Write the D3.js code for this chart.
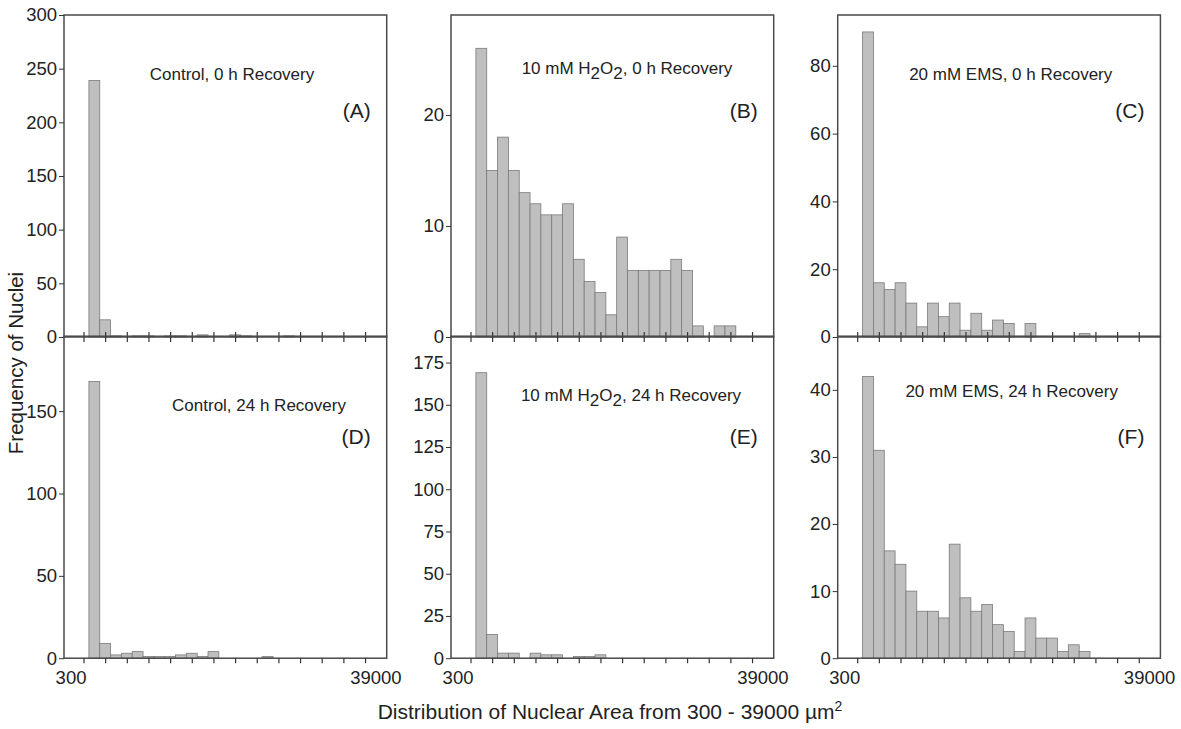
<!DOCTYPE html>
<html>
<head>
<meta charset="utf-8">
<script src="https://cdn.jsdelivr.net/npm/d3@7"></script>
<style>
  body { margin: 0; background: #fff; }
  text { font-family: "Liberation Sans", Arial, Helvetica, sans-serif; fill: #222; }
</style>
</head>
<body>
<svg id="chart" width="1181" height="729"></svg>
<script>
// frequency of nuclei per area bin (bin 0 = first bar)
var countsA = [239, 16, 1, 0, 1, 1, 0, 1, 1, 0, 2, 0, 0, 2, 1, 0, 0, 0, 1];
var countsB = [26, 15, 18, 15, 13, 12, 11, 11, 12, 7, 5, 4, 2, 9, 6, 6, 6, 6, 7, 6, 1, 0, 1, 1];
var countsC = [90, 16, 14, 16, 10, 3, 10, 6, 10, 2, 7, 2, 5, 4, 0, 4, 0, 0, 0, 0, 1];
var countsD = [168, 9, 2, 3, 4, 1, 1, 1, 2, 3, 1, 4, 0, 0, 0, 0, 1];
var countsE = [169, 14, 3, 3, 0, 3, 2, 2, 0, 1, 1, 2];
var countsF = [42, 31, 16, 14, 10, 7, 7, 6, 17, 9, 7, 8, 5, 4, 1, 6, 3, 3, 1, 2, 1];

// "_2" marks a subscript
var panelTitles = ["Control, 0 h Recovery", "10 mM H_2O_2, 0 h Recovery", "20 mM EMS, 0 h Recovery",
                   "Control, 24 h Recovery", "10 mM H_2O_2, 24 h Recovery", "20 mM EMS, 24 h Recovery"];
var panelLetters = ["(A)", "(B)", "(C)", "(D)", "(E)", "(F)"];

var yMax = [300, 29, 95, 195.5, 190.6, 48];
var yTicks = [[0, 50, 100, 150, 200, 250, 300], [0, 10, 20], [0, 20, 40, 60, 80],
              [0, 50, 100, 150], [0, 25, 50, 75, 100, 125, 150, 175], [0, 10, 20, 30, 40]];
var xTickBins = [-0.5, 1.5, 3.5, 5.5, 7.5, 9.5, 11.5, 13.5, 15.5, 17.5, 19.5, 21.5, 23.5, 25.5];
var xEndLabels = ["300", "39000"];
var xEndBins = [-1.65, 26.5];

var panels = [countsA, countsB, countsC, countsD, countsE, countsF];

// layout
var colX = [64, 451, 837.7], rowY = [15, 336.2];
var pw = 322.7, ph = 322;
var titlePos = [[168, 65], [176, 59], [173, 65], [195, 75], [180, 65], [174, 61]];
var letterY = [103, 103, 103, 108, 108, 108];

var svg = d3.select("#chart");

panels.forEach(function(counts, i) {
  var col = i % 3, row = Math.floor(i / 3);
  var g = svg.append("g").attr("transform", "translate(" + colX[col] + "," + rowY[row] + ")");

  var x = d3.scaleLinear().domain([-2.3, 27.5]).range([0, pw]);
  var y = d3.scaleLinear().domain([0, yMax[i]]).range([ph, 0]);

  // bars
  g.selectAll("rect.bar")
    .data(counts.map(function(d, k) { return {bin: k, n: d}; }).filter(function(d) { return d.n > 0; }))
    .enter().append("rect")
      .attr("class", "bar")
      .attr("x", function(d) { return x(d.bin); })
      .attr("width", function(d) { return x(d.bin + 1) - x(d.bin); })
      .attr("y", function(d) { return y(d.n); })
      .attr("height", function(d) { return ph - y(d.n); })
      .attr("fill", "#bfbfbf")
      .attr("stroke", "#7a7a7a")
      .attr("stroke-width", 0.8);

  // frame
  g.append("rect")
    .attr("width", pw).attr("height", ph)
    .attr("fill", "none").attr("stroke", "#4a4a4a").attr("stroke-width", 1.5);

  // y axis
  var ya = g.append("g")
    .call(d3.axisLeft(y).tickValues(yTicks[i]).tickSize(5).tickPadding(2));
  ya.select(".domain").remove();
  ya.selectAll("line").attr("stroke", "#333");
  ya.selectAll("text").style("font-size", "18.5px").attr("fill", "#222");

  // x axis ticks
  var xa = g.append("g")
    .attr("transform", "translate(0," + ph + ")")
    .call(d3.axisBottom(x).tickValues(xTickBins).tickSize(5).tickFormat(""));
  xa.select(".domain").remove();
  xa.selectAll("line").attr("stroke", "#333").attr("stroke-width", 1.2);
  if (row === 0) xa.selectAll("line").attr("y1", -5);

  if (row === 1) {
    g.selectAll("text.xend")
      .data(xEndLabels)
      .enter().append("text")
        .attr("class", "xend")
        .attr("x", function(d, k) { return x(xEndBins[k]); })
        .attr("y", ph + 26)
        .attr("text-anchor", "middle")
        .style("font-size", "18.5px")
        .text(function(d) { return d; });
  }

  // panel title with subscripts
  var t = g.append("text")
    .attr("x", titlePos[i][0]).attr("y", titlePos[i][1])
    .attr("text-anchor", "middle")
    .style("font-size", "17px");
  var shift = 0;
  panelTitles[i].split(/(_\d)/).forEach(function(part) {
    if (!part) return;
    if (part[0] === "_") {
      t.append("tspan").attr("dy", 5 - shift).text(part.slice(1));
      shift = 5;
    } else {
      t.append("tspan").attr("dy", -shift).text(part);
      shift = 0;
    }
  });

  g.append("text")
    .attr("x", pw - 16).attr("y", letterY[i])
    .attr("text-anchor", "end")
    .style("font-size", "21px")
    .text(panelLetters[i]);
});

// axis titles
svg.append("text")
  .attr("transform", "translate(23,363) rotate(-90)")
  .attr("text-anchor", "middle")
  .style("font-size", "20.5px")
  .text("Frequency of Nuclei");

var xl = svg.append("text")
  .attr("x", 610).attr("y", 719)
  .attr("text-anchor", "middle")
  .style("font-size", "21px");
xl.append("tspan").text("Distribution of Nuclear Area from 300 - 39000 \u00b5m");
xl.append("tspan").attr("dy", -8).style("font-size", "14px").text("2");
</script>
</body>
</html>
